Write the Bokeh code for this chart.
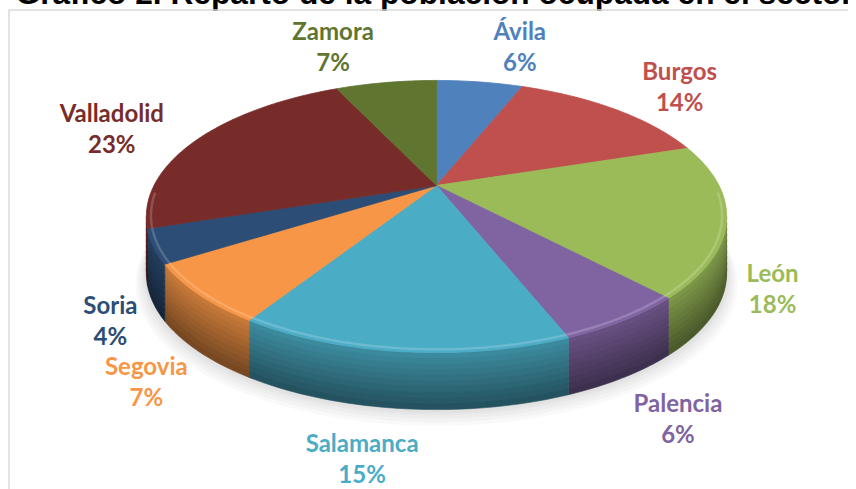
import math
from bokeh.plotting import figure
from bokeh.models import Range1d, ColumnDataSource
from bokeh.core.properties import value
from bokeh.embed import file_html
from bokeh.resources import INLINE

# ---------------- data ----------------
title_text = "Gráfico 2. Reparto de la población ocupada en el sector"
provinces = ["Ávila", "Burgos", "León", "Palencia", "Salamanca",
             "Segovia", "Soria", "Valladolid", "Zamora"]
shares = [6, 14, 18, 6, 15, 7, 4, 23, 7]
colors = ["#4F81BD", "#C0504D", "#9BBB59", "#8064A2", "#4BACC6",
          "#F79646", "#2C4D75", "#772C2A", "#5F7530"]

# ---------------- layout ----------------
W, H = 856, 497
M = 8                      # page margin, compensated by negative CSS margins
CX, CY = 436.0, 185.0      # projected centre of the pie's top face
RA, RB = 282.5, 129.0      # projected radii
K = 0.228                  # perspective strength
DEPTH = 57.0               # thickness of the pie
label_offsets = [(40, -36), (65, -23), (46, 68), (54, 98), (-40, 106),
                 (-52, 87), (-43, 74), (-87, -11), (-53, -37)]
LINE_GAP = 31


def proj(theta_deg, r=1.0, dz=0.0):
    t = math.radians(theta_deg)
    u, v = r * math.sin(t), r * math.cos(t)
    den = 1.0 + K * v
    return CX + RA * u / den, CY - RB * v / den + dz


def arc(a0, a1, r=1.0, dz=0.0):
    n = max(2, int(abs(a1 - a0) / 1.0) + 1)
    pts = [proj(a0 + (a1 - a0) * i / (n - 1), r, dz) for i in range(n)]
    return [q[0] for q in pts], [q[1] for q in pts]


def mix(hexc, f, target=(0, 0, 0)):
    h = hexc.lstrip("#")
    c = [int(h[i:i + 2], 16) for i in (0, 2, 4)]
    out = [round(c[i] * f + target[i] * (1 - f)) for i in range(3)]
    return "#%02x%02x%02x" % tuple(out)


# slice angles (degrees clockwise from 12 o'clock)
total = float(sum(shares))
starts, ends = [], []
acc = 0.0
for s in shares:
    starts.append(acc / total * 360.0)
    acc += s
    ends.append(acc / total * 360.0)

front0 = math.degrees(math.acos(-K))
front1 = 360.0 - front0

p = figure(width=W, height=H, x_range=Range1d(-M, W - M), y_range=Range1d(H - M, -M),
           output_backend="svg", toolbar_location=None,
           x_axis_location=None, y_axis_location=None,
           min_border=0, outline_line_color=None,
           background_fill_color="white", border_fill_color="white",
           styles={"margin-top": "-8px", "margin-left": "-8px", "margin-bottom": "-16px"})
p.grid.visible = False

# soft shadow under the pie
for off in [14, 11, 8, 5, 3]:
    xs, ys = arc(0, 360, r=1.0 + off / 400.0, dz=DEPTH + off * 0.6)
    p.patch(xs, ys, fill_color="#808080", fill_alpha=0.05, line_color=None)

# side walls (front-facing part), drawn as bands for a vertical gradient
NB = 10
side_xs, side_ys, side_cols = [], [], []
for a0, a1, col in zip(starts, ends, colors):
    s0, s1 = max(a0, front0), min(a1, front1)
    if s1 <= s0:
        continue
    for b in range(NB):
        z0 = DEPTH * b / NB
        z1 = DEPTH * (b + 1) / NB + 0.6
        xt, yt = arc(s0, s1, dz=z0)
        xb, yb = arc(s0, s1, dz=min(z1, DEPTH))
        side_xs.append(xt + xb[::-1])
        side_ys.append(yt + yb[::-1])
        f = 0.80 - 0.32 * (b / (NB - 1))
        side_cols.append(mix(col, f))
p.patches(side_xs, side_ys, fill_color=side_cols, line_color=side_cols, line_width=0.6)

# top faces
top_xs, top_ys = [], []
for a0, a1 in zip(starts, ends):
    xs, ys = arc(a0, a1)
    top_xs.append([CX] + xs)
    top_ys.append([CY] + ys)
p.patches(top_xs, top_ys, fill_color=colors, line_color=colors, line_width=0.8)

# bevel highlight along the front rim
for a0, a1, col in zip(starts, ends, colors):
    s0, s1 = max(a0, front0 - 10), min(a1, front1 + 10)
    if s1 <= s0:
        continue
    xs, ys = arc(s0, s1, r=0.985)
    p.line(xs, ys, line_color=mix(col, 0.6, (255, 255, 255)), line_width=2.5, line_alpha=0.45)

# data labels
lx, ly_name, ly_pct, names, pcts = [], [], [], [], []
for a0, a1, name, s, (dx, dy) in zip(starts, ends, provinces, shares, label_offsets):
    ax, ay = proj((a0 + a1) / 2.0)
    lx.append(ax + dx)
    ly_name.append(ay + dy - LINE_GAP / 2.0)
    ly_pct.append(ay + dy + LINE_GAP / 2.0)
    names.append(name)
    pcts.append(f"{s}%")

src = ColumnDataSource(dict(x=lx, yn=ly_name, yp=ly_pct, name=names, pct=pcts, col=colors))
for ycol, tcol in (("yn", "name"), ("yp", "pct")):
    p.text(x="x", y=ycol, text=tcol, source=src, text_color="col",
           text_font=value("Lato"), text_font_style="bold", text_font_size="24px",
           text_align="center", text_baseline="middle")

# title (cut off at the top of the picture)
p.text(x=[15], y=[-8], text=[title_text], text_font=value("Liberation Sans"),
       text_font_style="bold", text_font_size="31.7px", text_color="black",
       text_align="left", text_baseline="middle")

# chart-area border (drawn last so it stays visible under the title)
p.line(x=[8.5, 8.5, 900], y=[600, 9.5, 9.5], line_color="#D9D9D9", line_width=1.5)

open("out.html", "w").write(file_html(p, INLINE))
